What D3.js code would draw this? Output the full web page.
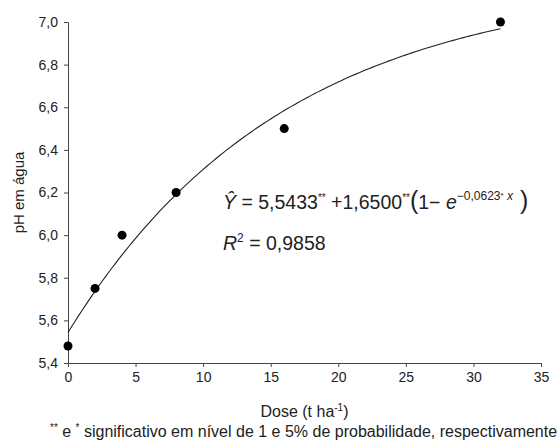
<!DOCTYPE html>
<html>
<head>
<meta charset="utf-8">
<script src="https://cdn.jsdelivr.net/npm/d3@7"></script>
<style>
  body { margin: 0; background: #fff; }
  text { font-family: "Liberation Sans", Arial, sans-serif; fill: #222; }
</style>
</head>
<body>
<div id="chart"></div>
<script>
// observed values
const doses = [0, 2, 4, 8, 16, 32];
const phValues = [5.48, 5.75, 6.0, 6.2, 6.5, 7.0];

// fitted model parameters
const a = 5.5433, b = 1.65, k = 0.0623;

const xTicks = [0, 5, 10, 15, 20, 25, 30, 35];
const yTicks = [5.4, 5.6, 5.8, 6.0, 6.2, 6.4, 6.6, 6.8, 7.0];

const width = 560, height = 441;
const margin = { top: 22, right: 19, bottom: 78, left: 68 };

const svg = d3.select("#chart")
    .append("svg")
    .attr("width", width)
    .attr("height", height);

const x = d3.scaleLinear().domain([0, 35]).range([margin.left, width - margin.right]);
const y = d3.scaleLinear().domain([5.4, 7.0]).range([height - margin.bottom, margin.top]);

const fmt = d => d3.format(".1f")(d).replace(".", ",");

// axes
const xAxis = svg.append("g")
    .attr("transform", `translate(0,${height - margin.bottom})`)
    .call(d3.axisBottom(x).tickValues(xTicks).tickSize(4).tickSizeOuter(0).tickPadding(5));

const yAxis = svg.append("g")
    .attr("transform", `translate(${margin.left},0)`)
    .call(d3.axisLeft(y).tickValues(yTicks).tickFormat(fmt).tickSize(4).tickSizeOuter(0).tickPadding(6));

[xAxis, yAxis].forEach(g => {
    g.selectAll("path, line").attr("stroke", "#444");
    g.selectAll("text").attr("font-size", 14).style("fill", "#222");
});

// fitted curve
const curveX = d3.range(0, 32.01, 0.25);
const line = d3.line()
    .x(d => x(d))
    .y(d => y(a + b * (1 - Math.exp(-k * d))));

svg.append("path")
    .datum(curveX)
    .attr("fill", "none")
    .attr("stroke", "#222")
    .attr("stroke-width", 1.1)
    .attr("d", line);

// points
svg.append("g")
    .selectAll("circle")
    .data(doses)
    .join("circle")
    .attr("cx", d => x(d))
    .attr("cy", (d, i) => y(phValues[i]))
    .attr("r", 4.5)
    .attr("fill", "#000");

// axis titles
svg.append("text")
    .attr("transform", `translate(24,${(margin.top + height - margin.bottom) / 2}) rotate(-90)`)
    .attr("text-anchor", "middle")
    .attr("font-size", 15)
    .text("pH em água");

const xt = svg.append("text")
    .attr("x", (margin.left + width - margin.right) / 2)
    .attr("y", 417)
    .attr("text-anchor", "middle")
    .attr("font-size", 16);
xt.append("tspan").text("Dose (t ha");
xt.append("tspan").attr("font-size", 10).attr("dy", -6).text("-1");
xt.append("tspan").attr("dy", 6).text(")");

// footnote
const fn = svg.append("text")
    .attr("x", 50)
    .attr("y", 437)
    .attr("font-size", 16);
fn.append("tspan").attr("font-size", 10).attr("dy", -6).text("**");
fn.append("tspan").attr("dy", 6).text(" e ");
fn.append("tspan").attr("font-size", 10).attr("dy", -6).text("*");
fn.append("tspan").attr("dy", 6).text(" significativo em nível de 1 e 5% de probabilidade, respectivamente");

// equation
const eq = svg.append("text")
    .attr("x", 223)
    .attr("y", 209)
    .attr("font-size", 19.5);
eq.append("tspan").attr("font-style", "italic").text("Ŷ");
eq.append("tspan").text(" = 5,5433");
eq.append("tspan").attr("font-size", 10).attr("dy", -8).text("**");
eq.append("tspan").attr("dy", 8).text(" +1,6500");
eq.append("tspan").attr("font-size", 10).attr("dy", -8).text("**");
eq.append("tspan").attr("dy", 8).attr("font-size", 25).text("(");
eq.append("tspan").text("1− ");
eq.append("tspan").attr("font-style", "italic").text("e");
eq.append("tspan").attr("font-size", 12).attr("dy", -9).text("−0,0623");
eq.append("tspan").attr("font-size", 8).attr("dy", -2).text("*");
eq.append("tspan").attr("font-size", 12).attr("font-style", "italic").attr("dy", 2).text(" x");
eq.append("tspan").attr("dy", 9).attr("font-size", 25).text(" )");

const r2 = svg.append("text")
    .attr("x", 223)
    .attr("y", 250)
    .attr("font-size", 19.5);
r2.append("tspan").attr("font-style", "italic").text("R");
r2.append("tspan").attr("font-size", 12).attr("dy", -8).text("2");
r2.append("tspan").attr("dy", 8).text(" = 0,9858");
</script>
</body>
</html>
